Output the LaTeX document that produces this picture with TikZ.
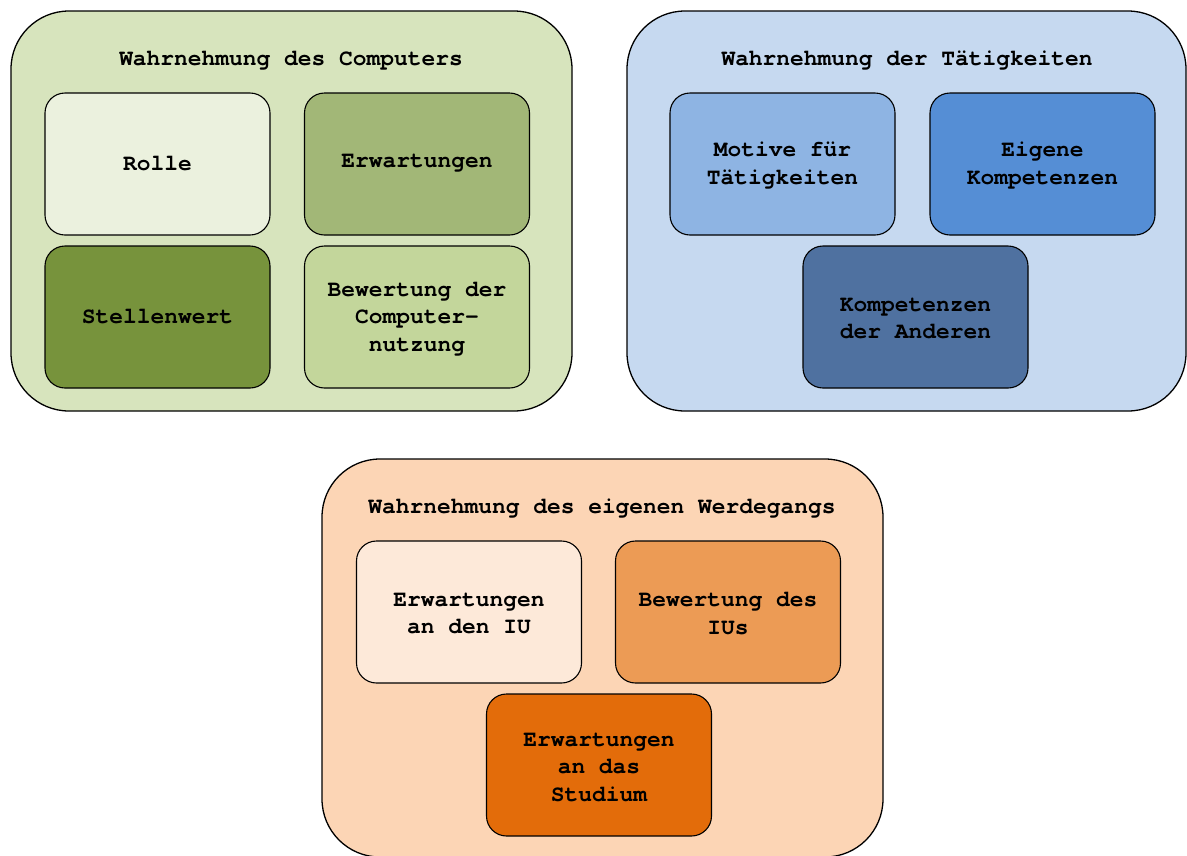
\documentclass[tikz,border=0pt]{standalone}
\usepackage{fontspec}
\setmonofont{TeX Gyre Cursor}
\definecolor{gOuter}{HTML}{D7E4BD}
\definecolor{gRolle}{HTML}{EBF1DE}
\definecolor{gErw}{HTML}{A2B777}
\definecolor{gStell}{HTML}{77933C}
\definecolor{gBew}{HTML}{C3D69B}
\definecolor{bOuter}{HTML}{C6D9F0}
\definecolor{bMot}{HTML}{8EB4E3}
\definecolor{bEig}{HTML}{558ED5}
\definecolor{bAnd}{HTML}{4F71A0}
\definecolor{oOuter}{HTML}{FCD5B5}
\definecolor{oIU}{HTML}{FDE9D9}
\definecolor{oBew}{HTML}{EC9B55}
\definecolor{oStud}{HTML}{E36C0A}
\tikzset{
  txt/.style={font=\ttfamily\bfseries\fontsize{22.9pt}{27.5pt}\selectfont, align=center, text=black, inner sep=0pt},
  outerbox/.style={draw=black, line width=1.3pt, rounded corners=58pt, minimum width=561pt, minimum height=400pt, inner sep=0pt},
  innerbox/.style={draw=black, line width=1.1pt, rounded corners=20pt, minimum width=225pt, minimum height=142pt, inner sep=0pt},
  title/.style={txt}
}
\begin{document}
\begin{tikzpicture}[x=1pt,y=-1pt]
\useasboundingbox (0,0) rectangle (1187,855);
\clip (0,0) rectangle (1187,855);
% green group
\node[outerbox, fill=gOuter] (gOut) at (291.5,211) {};
\node[title] (gTitle) at (291,61) {Wahrnehmung des Computers};
\node[innerbox, fill=gRolle] (rolle) at (157.5,164) {};
\node[txt] (rolleT) at ([yshift=0.5pt]rolle.center) {Rolle};
\node[innerbox, fill=gErw] (erw) at (417,164) {};
\node[txt] (erwT) at ([yshift=0.5pt]erw.center) {Erwartungen};
\node[innerbox, fill=gStell] (stell) at (157.5,317) {};
\node[txt] (stellT) at ([yshift=0.5pt]stell.center) {Stellenwert};
\node[innerbox, fill=gBew] (bew) at (417,317) {};
\node[txt] (bewT) at ([yshift=-2pt]bew.center) {Bewertung der\\Computer-\\nutzung};
% blue group
\node[outerbox, fill=bOuter, minimum width=559pt] (bOut) at (906.5,211) {};
\node[title] (bTitle) at (907,61) {Wahrnehmung der Tätigkeiten};
\node[innerbox, fill=bMot] (mot) at (782.5,164) {};
\node[txt] (motT) at ([yshift=-1.5pt]mot.center) {Motive für\\Tätigkeiten};
\node[innerbox, fill=bEig] (eig) at (1042.5,164) {};
\node[txt] (eigT) at ([yshift=-1.5pt]eig.center) {Eigene\\Kompetenzen};
\node[innerbox, fill=bAnd] (and) at (915.5,317) {};
\node[txt] (andT) at ([yshift=-1.5pt]and.center) {Kompetenzen\\der Anderen};
% orange group
\node[outerbox, fill=oOuter, minimum height=398pt] (oOut) at (602.5,658) {};
\node[title] (oTitle) at (602,509) {Wahrnehmung des eigenen Werdegangs};
\node[innerbox, fill=oIU] (iu) at (469,612) {};
\node[txt] (iuT) at ([yshift=-1.5pt]iu.center) {Erwartungen\\an den IU};
\node[innerbox, fill=oBew] (biu) at (728,612) {};
\node[txt] (biuT) at ([yshift=-1.5pt]biu.center) {Bewertung des\\IUs};
\node[innerbox, fill=oStud] (stud) at (599,765) {};
\node[txt] (studT) at ([yshift=-2pt]stud.center) {Erwartungen\\an das\\Studium};
\end{tikzpicture}
\end{document}
